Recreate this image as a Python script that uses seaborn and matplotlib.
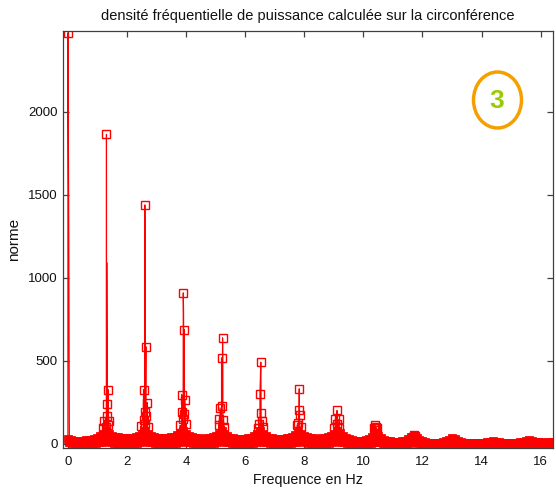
import numpy as np
import pandas as pd
import matplotlib
matplotlib.use("Agg")
import matplotlib.pyplot as plt
import seaborn as sns
from matplotlib.patches import Ellipse

# ---------------- data ----------------
title = "densité fréquentielle de puissance calculée sur la circonférence"
x_label = "Frequence en Hz"
y_label = "norme"
x_ticks = [0, 2, 4, 6, 8, 10, 12, 14, 16]
y_ticks = [0, 500, 1000, 1500, 2000]
badge_text = "3"

# upper band values on the 0.1 Hz grid (0.0 .. 16.4 Hz)
env_start, env_step = 0.0, 0.1
env_norm = [
    25, 20, 18, 18, 18, 18, 19, 20, 22, 27,
    34, 44, 60, 76, 60, 46, 40, 37, 35, 35,
    35, 35, 36, 40, 46, 60, 76, 60, 44, 38,
    36, 35, 35, 35, 36, 38, 42, 49, 62, 76,
    60, 46, 38, 34, 31, 30, 30, 31, 33, 37,
    44, 60, 76, 60, 44, 36, 32, 30, 29, 29,
    30, 32, 36, 44, 60, 76, 60, 44, 36, 32,
    30, 29, 29, 30, 32, 36, 42, 52, 70, 60,
    44, 37, 33, 31, 30, 30, 31, 33, 38, 48,
    60, 76, 64, 46, 33, 25, 20, 17, 16, 16,
    17, 20, 28, 40, 58, 48, 32, 22, 16, 13,
    11, 11, 12, 14, 18, 26, 40, 52, 34, 22,
    13, 8, 6, 5, 5, 5, 6, 9, 15, 24,
    32, 26, 15, 9, 6, 5, 5, 5, 5, 5,
    5, 6, 8, 12, 15, 11, 7, 5, 5, 5,
    5, 5, 6, 8, 11, 15, 21, 17, 11, 8,
    7, 6, 6, 7, 7,
]
# lower band values on the shifted grid (0.05 .. 16.45 Hz)
low_start, low_step = 0.05, 0.1
low_norm = [
    8, 3, 2, 2, 2, 2, 2, 3, 4, 5,
    8, 12, 18, 16, 10, 6, 4, 3, 3, 3,
    3, 3, 4, 5, 8, 14, 18, 12, 7, 4,
    3, 3, 3, 3, 3, 4, 5, 8, 14, 18,
    12, 7, 4, 3, 3, 3, 3, 3, 4, 5,
    9, 15, 18, 12, 7, 4, 3, 3, 3, 3,
    3, 4, 5, 8, 14, 18, 12, 7, 4, 3,
    3, 3, 3, 3, 4, 5, 7, 10, 16, 14,
    8, 5, 4, 3, 3, 3, 3, 4, 5, 8,
    14, 18, 12, 7, 4, 3, 2, 2, 2, 2,
    2, 3, 4, 7, 12, 10, 5, 3, 2, 2,
    1, 1, 1, 2, 3, 4, 7, 9, 5, 3,
    2, 1, 0, 0, 0, 0, 0, 1, 2, 4,
    5, 3, 1, 0, 0, 0, 0, 0, 0, 0,
    0, 1, 1, 2, 2, 1, 1, 0, 0, 0,
    0, 0, 1, 1, 2, 3, 3, 2, 1, 1,
    1, 0, 0, 1, 1,
]

# harmonic peak clusters (drawn with square markers)
peak_freq = [
    0.0,
    1.305, 1.36, 1.31, 1.33, 1.22, 1.38, 1.35, 1.20, 1.28,
    2.605, 2.64, 2.56, 2.68, 2.62, 2.66, 2.58, 2.60, 2.46, 2.70,
    3.905, 3.94, 3.85, 3.96, 3.86, 3.93, 3.90, 3.80, 4.00,
    5.235, 5.20, 5.23, 5.15, 5.13, 5.26, 5.10, 5.30,
    6.53, 6.50, 6.54, 6.57, 6.46, 6.60, 6.43,
    7.83, 7.82, 7.84, 7.80, 7.76, 7.88,
    9.11, 9.05, 9.17, 9.02, 9.19, 9.12,
    10.39, 10.42, 10.36, 10.45, 10.40,
    11.71, 11.74, 11.68,
]
peak_norm = [
    2475,
    1863, 325, 240, 165, 134, 134, 114, 96, 100,
    1438, 584, 325, 247, 187, 165, 140, 120, 104, 100,
    908, 687, 295, 265, 187, 175, 145, 110, 120,
    637, 516, 225, 215, 145, 140, 110, 100,
    490, 299, 185, 134, 120, 100, 95,
    330, 205, 169, 126, 110, 100,
    199, 145, 145, 96, 96, 120,
    111, 100, 92, 92, 82,
    53, 46, 40,
]
# spectral line points without marker
spike_freq = [0.03, 1.315, 2.615, 3.915, 5.24, 6.535, 7.835]
spike_norm = [1250, 1090, 1008, 789, 578, 380, 250]

# ---------------- assemble ----------------
env_freq = np.round(env_start + env_step * np.arange(len(env_norm)), 3)
low_freq = np.round(low_start + low_step * np.arange(len(low_norm)), 3)

band = pd.DataFrame({
    "freq": np.concatenate([env_freq, low_freq]),
    "norm": np.concatenate([env_norm, low_norm]).astype(float),
}).sort_values("freq", kind="stable")
peaks = pd.DataFrame({"freq": peak_freq, "norm": np.asarray(peak_norm, float)})
spikes = pd.DataFrame({"freq": spike_freq, "norm": np.asarray(spike_norm, float)})
line = pd.concat([band, peaks, spikes], ignore_index=True).sort_values("freq", kind="stable")

# ---------------- style ----------------
sns.set_style("white")
plt.rcParams["font.family"] = ["Liberation Sans", "DejaVu Sans"]

fig = plt.figure(figsize=(5.56, 4.94), dpi=100)
W, H = 556, 494
left, right, top, bottom = 63, 553, 31.5, 448
ax = fig.add_axes([left / W, 1 - bottom / H, (right - left) / W, (bottom - top) / H])

# dense low-level spectrum: zig-zag line + overlapping square markers
sns.lineplot(data=band, x="freq", y="norm", estimator=None, sort=False,
             color="red", linewidth=2.2, antialiased=False, ax=ax)
sns.lineplot(data=band, x="freq", y="norm", estimator=None, sort=False,
             color="red", linestyle="none", marker="s", markersize=4.3,
             markerfacecolor="none", markeredgecolor="red", markeredgewidth=2.0,
             antialiased=False, ax=ax)
# full spectrum line through the harmonic peaks
sns.lineplot(data=line, x="freq", y="norm", estimator=None, sort=False,
             color="red", linewidth=0.85, ax=ax)
sns.lineplot(data=peaks, x="freq", y="norm", estimator=None, sort=False,
             color="red", linestyle="none", marker="s", markersize=5.3,
             markerfacecolor="none", markeredgecolor="red", markeredgewidth=1.0,
             ax=ax)

ax.set_xlim(-0.166, 16.42)
ax.set_ylim(-27, 2483)
ax.set_xticks(x_ticks)
ax.set_yticks(y_ticks)
ax.set_xticklabels([str(t) for t in x_ticks])
ax.set_yticklabels([str(t) for t in y_ticks])

for s in ax.spines.values():
    s.set_visible(True)
    s.set_color("#404040")
    s.set_linewidth(0.9)
ax.tick_params(direction="in", length=4, width=0.9, top=True, right=True,
               bottom=True, left=True, color="#404040", labelsize=9.5,
               labelcolor="#111111")
ax.tick_params(axis="x", pad=6)
ax.tick_params(axis="y", pad=4)

ax.set_xlabel(x_label, fontsize=10.3, color="#111111", labelpad=3)
ax.set_ylabel(y_label, fontsize=11, color="#111111", labelpad=5)
ax.set_title(title, fontsize=10.5, color="#111111", pad=8)

# badge
ell = Ellipse((497.5 / W, 1 - 100 / H), 48 / W, 56 / H, transform=fig.transFigure,
              fill=False, edgecolor="#F5A000", linewidth=2.5)
fig.patches.append(ell)
fig.text(497 / W, 1 - 101 / H, badge_text, color="#99CC00", fontsize=19,
         fontweight="bold", ha="center", va="center")

fig.savefig("out.png", dpi=100)
